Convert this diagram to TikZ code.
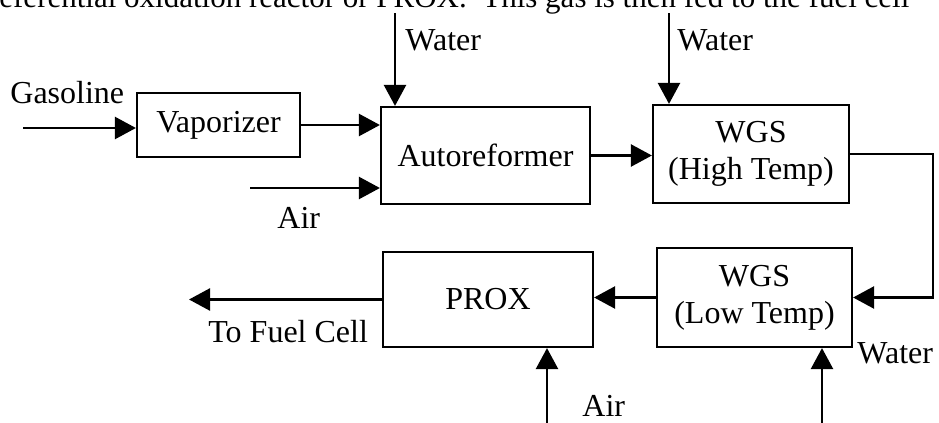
\documentclass[tikz,border=0pt]{standalone}
\usepackage{fontspec}
\setmainfont{Liberation Serif}
\usetikzlibrary{arrows.meta}
\begin{document}
\begin{tikzpicture}[x=0.5pt,y=-0.5pt,
  txt/.style={font=\fontsize{16}{18.5}\selectfont},
  box/.style={txt, draw, line width=1.1pt, inner sep=0pt, align=center},
  lbl/.style={txt, anchor=base west, inner sep=0pt},
  flow/.style={line width=1.25pt, -{Triangle[length=10.5pt,width=11pt]}}]
\useasboundingbox (0,0) rectangle (939,423);
\clip (0,0) rectangle (939,423);
% cut-off line of running text above the figure
\node[lbl, font=\fontsize{15.5}{18}\selectfont] (toptext) at (-1,8) {eferential oxidation reactor or PROX.\ \ This gas is then fed to the fuel cell};
% process boxes
\node[box, minimum width=81.5pt, minimum height=32pt] (vap) at (218.5,125) {Vaporizer};
\node[box, minimum width=104.5pt, minimum height=48.5pt] (auto) at (485.5,155.5) {Autoreformer};
\node[box, minimum width=98pt, minimum height=49pt] (wgsh) at (751,154) {WGS\\(High Temp)};
\node[box, minimum width=97.5pt, minimum height=49.5pt] (wgsl) at (754.5,297.5) {WGS\\(Low Temp)};
\node[box, minimum width=105pt, minimum height=47.5pt] (prox) at (488,299.5) {PROX};
% free ends of streams
\coordinate (gin) at (23,128);
\coordinate (airin) at (250,188);
\coordinate (w1) at (395,13);
\coordinate (w2) at (669,13);
\coordinate (fc) at (189,301);
\coordinate (a2) at (547,423);
\coordinate (w3) at (822,423);
% labels
\node[lbl] (lgas) at (10,104) {Gasoline};
\node[lbl] (lair1) at (277,228) {Air};
\node[lbl] (lw1) at (405,50) {Water};
\node[lbl] (lw2) at (677,50) {Water};
\node[lbl] (lfc) at (208,342) {To Fuel Cell};
\node[lbl] (lair2) at (582,416) {Air};
\node[lbl] (lw3) at (857,363) {Water};
% streams
\draw[flow] (gin) -- (gin -| vap.west);
\draw[flow] (vap.east) -- (vap.east -| auto.west);
\draw[flow] (airin) -- (airin -| auto.west);
\draw[flow] (w1) -- (w1 |- auto.north);
\draw[flow] (auto.east) -- (auto.east -| wgsh.west);
\draw[flow] (w2) -- (w2 |- wgsh.north);
\draw[flow] (wgsh.east) -- ++(83,0) |- (wgsl.east);
\draw[flow] (wgsl.west) -- (wgsl.west -| prox.east);
\draw[flow] (prox.west) -- (prox.west -| fc);
\draw[flow] (a2) -- (a2 |- prox.south);
\draw[flow] (w3) -- (w3 |- wgsl.south);
\end{tikzpicture}
\end{document}
